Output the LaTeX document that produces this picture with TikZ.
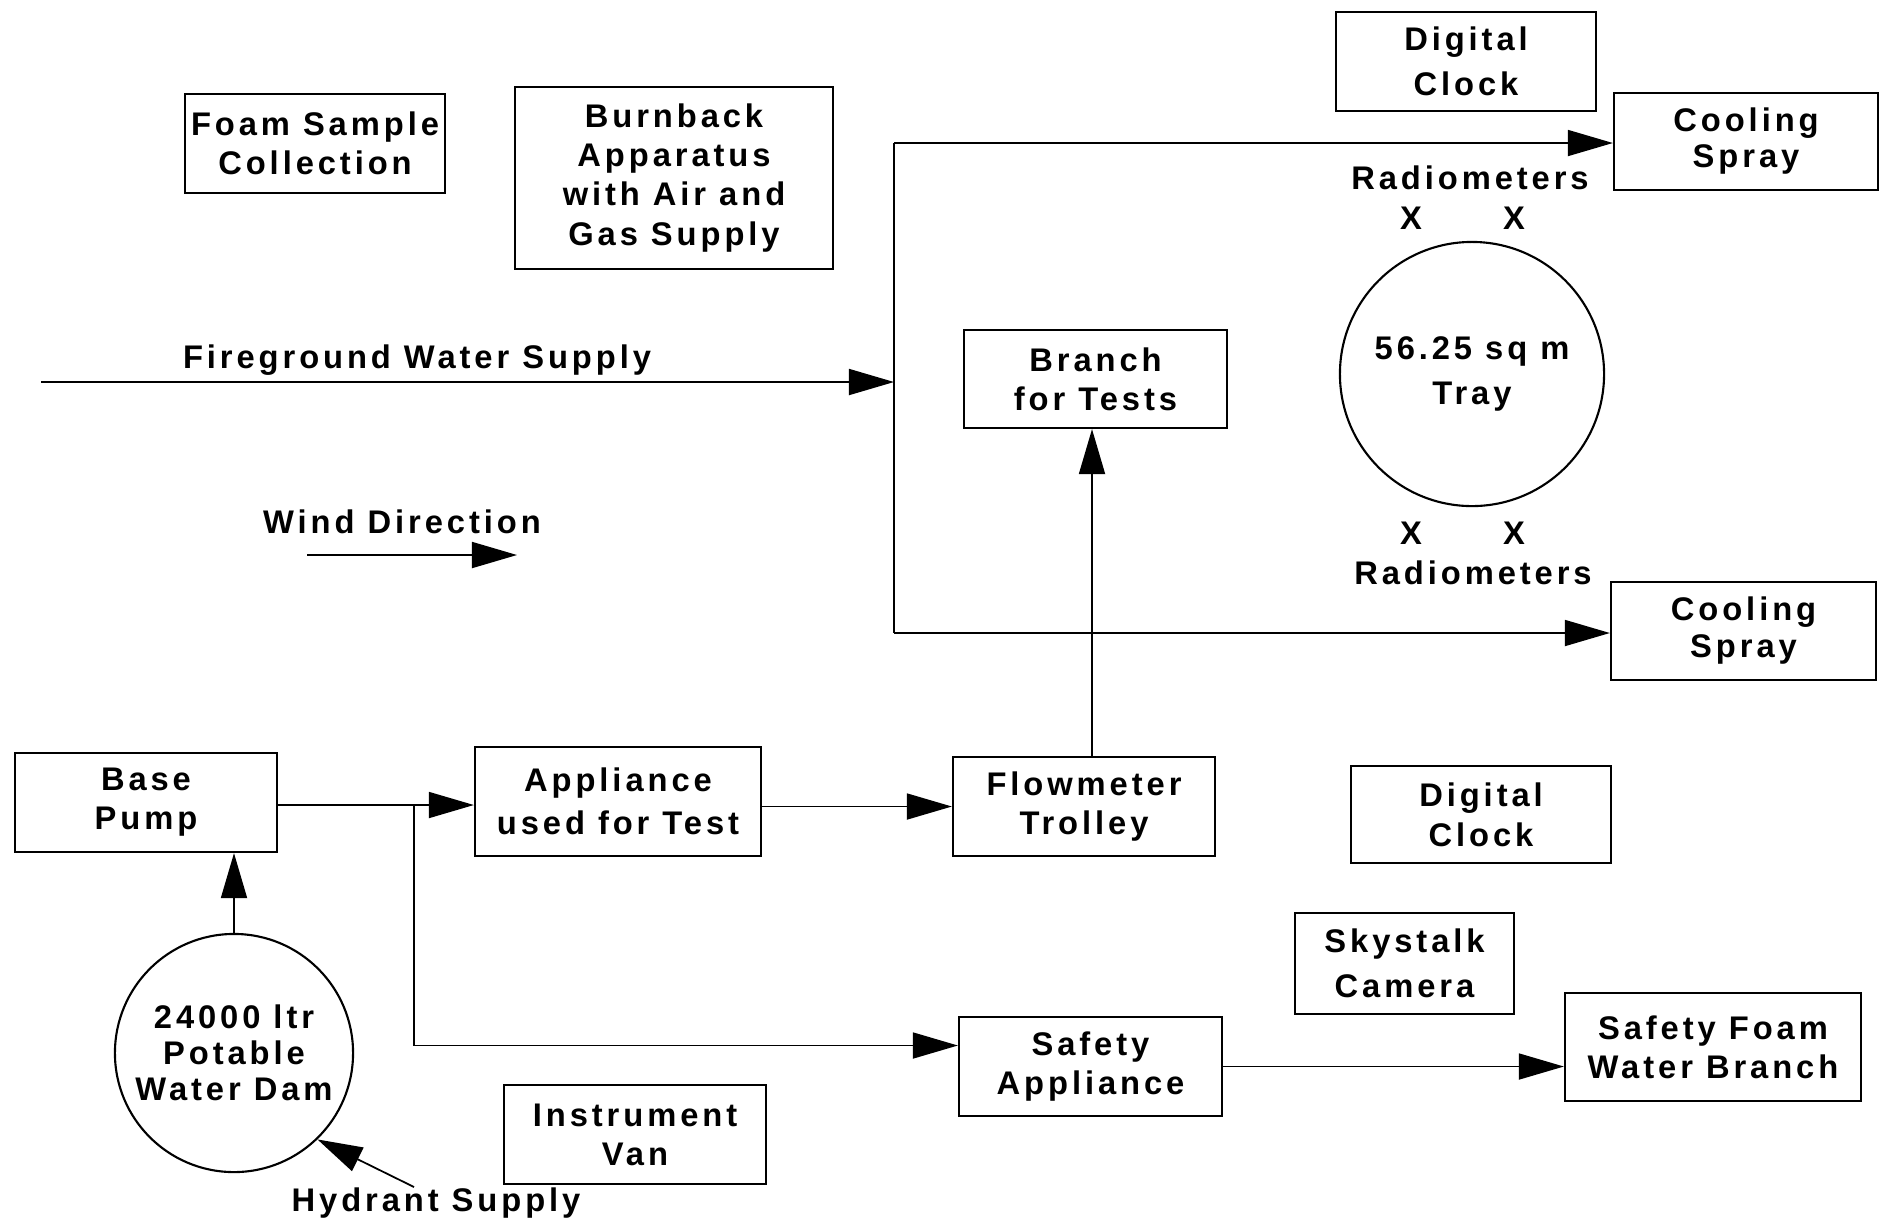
\documentclass[tikz,border=0pt]{standalone}
\usepackage{fontspec}
\setmainfont{Liberation Sans}[LetterSpace=12]
\usetikzlibrary{arrows.meta}
\begin{document}
\begin{tikzpicture}[x=0.01cm,y=-0.01cm,
  every node/.style={font=\fontsize{9.3pt}{11.1pt}\selectfont\bfseries, align=center, inner sep=0pt},
  box/.style={draw, line width=0.6pt, rectangle},
  ring/.style={draw, line width=0.6pt, circle},
  conn/.style={line width=0.5pt},
  arr/.style={conn, -{Triangle[length=0.45cm,width=0.26cm]}}]
\useasboundingbox (0,0) rectangle (1881,1223);
% boxes
\node[box, minimum width=2.60cm, minimum height=0.99cm] (foam) at (315,143.5) {Foam Sample\\Collection};
\node[box, minimum width=3.18cm, minimum height=1.82cm] (burn) at (674,178) {Burnback\\Apparatus\\with Air and\\Gas Supply};
\node[box, minimum width=2.60cm, minimum height=0.99cm] (clock1) at (1466,61.5) {Digital\\[0.06cm]Clock};
\node[box, minimum width=2.64cm, minimum height=0.97cm] (cool1) at (1746,141.5) {Cooling\\[-0.03cm]Spray};
\node[box, minimum width=2.63cm, minimum height=0.98cm] (branch) at (1095.5,379) {Branch\\for Tests};
\node[ring, minimum size=2.64cm] (tray) at (1472,374) {56.25 sq m\\[0.06cm]Tray};
\node[box, minimum width=2.65cm, minimum height=0.98cm] (cool2) at (1743.5,631) {Cooling\\[-0.02cm]Spray};
\node[box, minimum width=2.62cm, minimum height=0.99cm] (base) at (146,802.5) {Base\\Pump};
\node[box, minimum width=2.86cm, minimum height=1.09cm] (appl) at (618,801.5) {Appliance\\[0.04cm]used for Test};
\node[box, minimum width=2.62cm, minimum height=0.99cm] (flow) at (1084,806.5) {Flowmeter\\Trolley};
\node[box, minimum width=2.60cm, minimum height=0.97cm] (clock2) at (1481,814.5) {Digital\\[0.01cm]Clock};
\node[box, minimum width=2.19cm, minimum height=1.01cm] (sky) at (1404.5,963.5) {Skystalk\\[0.06cm]Camera};
\node[box, minimum width=2.63cm, minimum height=0.99cm] (safe) at (1090.5,1066.5) {Safety\\Appliance};
\node[box, minimum width=2.96cm, minimum height=1.08cm] (sfwb) at (1713,1047) {Safety Foam\\Water Branch};
\node[box, minimum width=2.62cm, minimum height=0.99cm] (instr) at (635,1134.5) {Instrument\\Van};
\node[ring, minimum size=2.38cm] (dam) at (234,1053) {24000 ltr\\[-0.03cm]Potable\\[-0.03cm]Water Dam};
% labels
\node (fglabel) at (417,360) {Fireground Water Supply};
\node (windlabel) at (402,522) {Wind Direction};
\node (radtop) at (1470,178) {Radiometers};
\node (xa) at (1411,218) {X};
\node (xb) at (1514,218) {X};
\node (xc) at (1411,533) {X};
\node (xd) at (1514,533) {X};
\node (radbot) at (1473,573) {Radiometers};
\node (hydlabel) at (436,1203) {Hydrant Supply};
% coordinates
\coordinate (fgstart) at (41,382);
\coordinate (fgend) at (894,382);
\coordinate (vtop) at (894,143);
\coordinate (vbot) at (894,633);
\coordinate (junc) at (414,805);
\coordinate (hyd) at (414,1187);
\coordinate (w1) at (307,555);
\coordinate (w2) at (517,555);
% connectors
\draw[arr] (fgstart) -- (fgend);
\draw[conn] (vtop) -- (vbot);
\draw[arr] (vtop) -- (vtop -| cool1.west);
\draw[arr] (vbot) -- (vbot -| cool2.west);
\draw[arr] ([xshift=0.08cm]flow.north) -- ([xshift=0.08cm]flow.north |- branch.south);
\draw[arr] (base.east |- junc) -- (junc -| appl.west);
\draw[arr] (junc) |- (safe.171);
\draw[arr] (appl.east |- flow.west) -- (flow.west);
\draw[arr] (safe.east) -- (safe.east -| sfwb.west);
\draw[arr] (dam.north) -- (dam.north |- base.south);
\draw[arr] (hyd) -- (dam.-46);
\draw[arr] (w1) -- (w2);
\end{tikzpicture}
\end{document}
